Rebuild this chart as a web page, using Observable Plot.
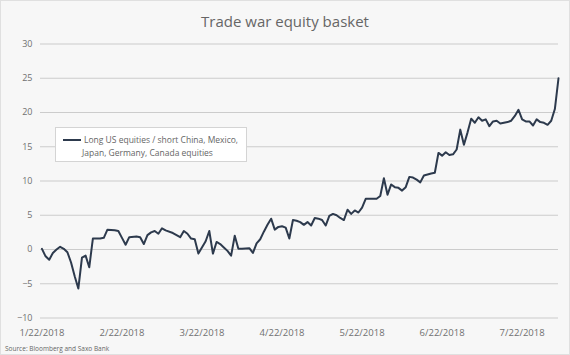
<!DOCTYPE html>
<html>
<head>
<meta charset="utf-8">
<script src="https://cdn.jsdelivr.net/npm/d3@7"></script>
<script src="https://cdn.jsdelivr.net/npm/@observablehq/plot@0.6"></script>
<style>
  html, body { margin: 0; padding: 0; background: #ffffff; }
  #wrap { position: relative; width: 570px; height: 355px; background: #f7f7f7; overflow: hidden; font-family: "Open Sans", sans-serif; }
  #wrap svg { position: absolute; left: 0; top: 0; }
  #border { position: absolute; left: 0; top: 0; width: 568px; height: 353px; border: 1px solid #e0e0e0; pointer-events: none; }
  #title { position: absolute; left: 0; width: 570px; top: 11px; text-align: center; font-size: 15px; color: #666; line-height: 20px; }
  #source { position: absolute; left: 5px; top: 344px; font-size: 6.5px; color: #666; line-height: 10px; }
  #legend { position: absolute; left: 55px; top: 127px; width: 190px; height: 33px; background: #ffffff; border: 1px solid #d4d4d4; font-size: 8.5px; color: #666; }
  #legend .swatch { position: absolute; left: 7px; top: 11px; width: 18px; height: 2px; background: #2d3a4d; }
  #legend .l1 { position: absolute; left: 28px; top: 6px; line-height: 12px; white-space: nowrap; }
  #legend .l2 { position: absolute; left: 26px; top: 19px; line-height: 12px; white-space: nowrap; }
</style>
</head>
<body>
<div id="wrap">
  <div id="chart"></div>
  <div id="title"></div>
  <div id="legend"><div class="swatch"></div><div class="l1"></div><div class="l2"></div></div>
  <div id="source"></div>
  <div id="border"></div>
</div>
<script>
const titleText = "Trade war equity basket";
const sourceText = "Source: Bloomberg and Saxo Bank";
const legendLines = ["Long US equities / short China, Mexico,", "Japan, Germany, Canada equities"];

const tickLabels = ["1/22/2018", "2/22/2018", "3/22/2018", "4/22/2018", "5/22/2018", "6/22/2018", "7/22/2018"];
const tickDays = [0, 22, 44, 66, 88, 110, 132];
const yTicks = [-10, -5, 0, 5, 10, 15, 20, 25, 30];

// trading-day index since 1/22/2018
const days = [0,1,2,3,4,5,6,7,8,9,10,11,12,13,14,16,17,18,20,21,22,23,24,26,27,28,29,30,31,32,33,34,36,37,38,39,40,41,42,43,45,46,47,48,49,50,51,52,53,54,55,57,58,59,60,61,62,63,64,65,66,67,68,69,70,71,72,73,74,75,76,77,78,79,80,81,82,83,84,85,86,87,88,89,92,93,94,95,96,97,98,99,100,101,102,103,104,105,107,108,109,110,111,112,113,114,115,116,117,118,119,120,121,122,123,124,125,126,128,129,130,131,132,133,134,135,136,137,138,139,140,141,142];
const values = [0.1,-1.0,-1.5,-0.5,0.0,0.4,0.1,-0.4,-1.9,-3.9,-5.7,-1.2,-0.9,-2.6,1.6,1.6,1.7,2.9,2.8,2.7,1.7,0.7,1.8,1.9,1.8,0.8,2.1,2.5,2.7,2.3,3.1,2.8,2.4,2.1,1.8,2.7,2.3,1.6,1.5,-0.6,1.2,2.7,-0.6,1.1,0.8,0.3,-0.2,-0.9,2.0,0.1,0.1,0.2,-0.5,0.9,1.5,2.6,3.6,4.5,2.9,3.3,3.4,3.2,1.6,4.3,4.2,4.0,3.6,4.0,3.5,4.6,4.5,4.3,3.5,4.9,5.2,5.0,4.6,4.3,5.8,5.2,5.7,5.4,6.1,7.4,7.4,7.8,10.4,8.0,9.5,9.1,9.0,8.6,9.1,10.6,10.5,10.2,9.8,10.8,11.1,11.2,14.1,13.7,14.2,13.8,13.9,14.6,17.5,15.3,17.1,19.1,18.5,19.3,18.8,19.0,18.0,18.7,18.8,18.4,18.6,18.8,19.5,20.4,19.0,18.7,18.7,18.1,19.0,18.6,18.5,18.2,18.8,20.5,25.0];

const data = days.map((d, i) => ({day: d, value: values[i]}));

document.getElementById("title").textContent = titleText;
document.getElementById("source").textContent = sourceText;
document.querySelector("#legend .l1").textContent = legendLines[0];
document.querySelector("#legend .l2").textContent = legendLines[1];

const chart = Plot.plot({
  width: 570,
  height: 355,
  marginLeft: 40,
  marginRight: 12,
  marginTop: 43.5,
  marginBottom: 37.5,
  style: { background: "transparent", color: "#707070", fontFamily: "Open Sans, sans-serif", fontSize: "9px", overflow: "visible" },
  x: { domain: [-0.4, 142], label: null },
  y: { domain: [-10, 30], label: null },
  marks: [
    Plot.gridY(yTicks, { stroke: "#cccccc", strokeOpacity: 1, strokeWidth: 1.2 }),
    Plot.axisY({ ticks: yTicks, tickSize: 0, tickPadding: 8, fontSize: 9, label: null }),
    Plot.axisX({ ticks: tickDays, tickSize: 0, tickPadding: 11, fontSize: 9.5, label: null,
      tickFormat: d => tickLabels[tickDays.indexOf(d)] }),
    Plot.line(data, { x: "day", y: "value", stroke: "#2d3a4d", strokeWidth: 2, strokeLinejoin: "round" })
  ]
});
document.getElementById("chart").appendChild(chart);
</script>
</body>
</html>
